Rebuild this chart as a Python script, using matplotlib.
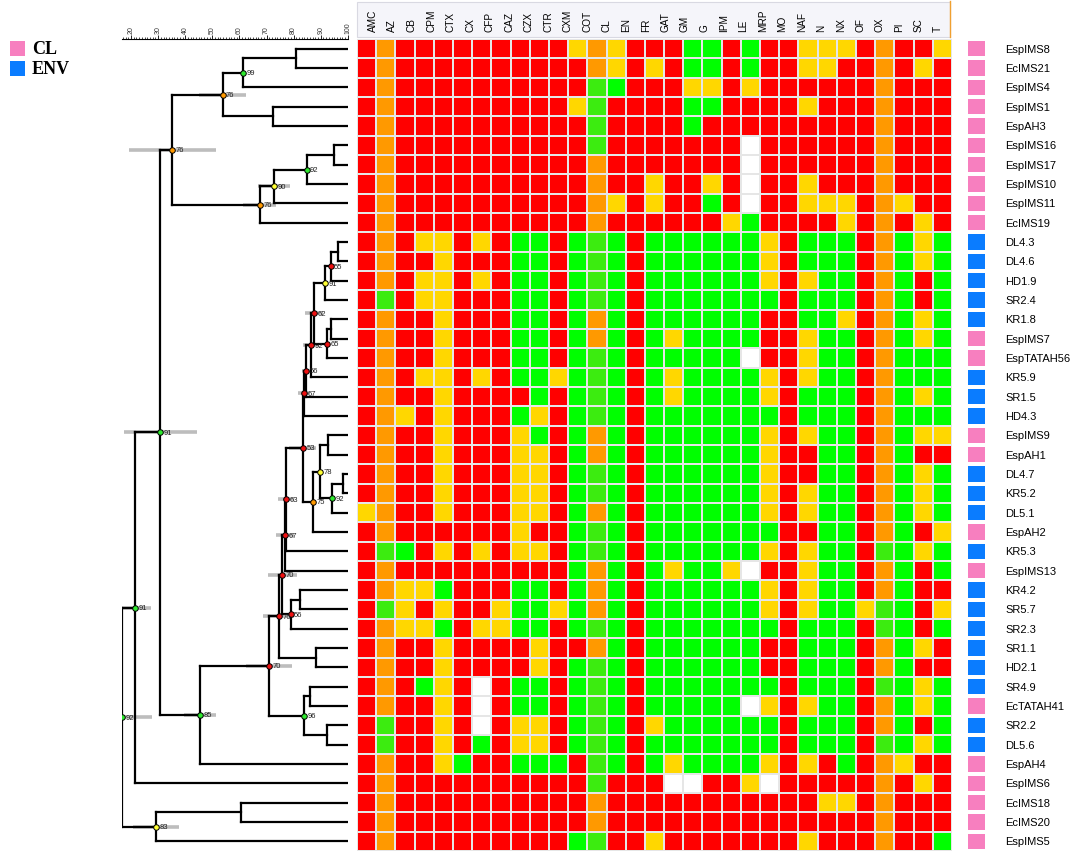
import numpy as np
import matplotlib.pyplot as plt
from matplotlib.colors import ListedColormap
from matplotlib.patches import Rectangle
from matplotlib.lines import Line2D

W, H = 1089, 862

# column headers (30 labels over 31 coloured columns, as in the source figure)
antibiotics = ['AMC', 'AZ', 'CB', 'CPM', 'CTX', 'CX', 'CFP', 'CAZ', 'CZX', 'CTR',
               'CXM', 'COT', 'CL', 'EN', 'FR', 'GAT', 'GM', 'G', 'IPM', 'LE',
               'MRP', 'MO', 'NAF', 'N', 'NX', 'OF', 'OX', 'PI', 'SC', 'T']

isolates = ['EspIMS8', 'EcIMS21', 'EspIMS4', 'EspIMS1', 'EspAH3', 'EspIMS16',
            'EspIMS17', 'EspIMS10', 'EspIMS11', 'EcIMS19', 'DL4.3', 'DL4.6',
            'HD1.9', 'SR2.4', 'KR1.8', 'EspIMS7', 'EspTATAH56', 'KR5.9', 'SR1.5',
            'HD4.3', 'EspIMS9', 'EspAH1', 'DL4.7', 'KR5.2', 'DL5.1', 'EspAH2',
            'KR5.3', 'EspIMS13', 'KR4.2', 'SR5.7', 'SR2.3', 'SR1.1', 'HD2.1',
            'SR4.9', 'EcTATAH41', 'SR2.2', 'DL5.6', 'EspAH4', 'EspIMS6',
            'EcIMS18', 'EcIMS20', 'EspIMS5']

origin = ['CL'] * 10 + ['ENV'] * 5 + ['CL', 'CL'] + ['ENV'] * 3 + ['CL', 'CL'] \
    + ['ENV'] * 3 + ['CL', 'ENV', 'CL'] + ['ENV'] * 6 + ['CL', 'ENV', 'ENV', 'CL', 'CL', 'CL', 'CL', 'CL']

# R resistant, O orange, Y yellow, G green, W no data
profiles = [
    'RORRRRRRRRRYOYRRRGGRGRRYYYRORRY',
    'RORRRRRRRRRROYRYRGGRGRRYYRRORYR',
    'RORRRRRRRRRRGGRRRYYRYRRRRRRORRR',
    'RORRRRRRRRRYGRRRRGGRRRRYRRRORRR',
    'RORRRRRRRRRRGRRRRGRRRRRRRRRORRR',
    'RORRRRRRRRRRGRRRRRRRWRRRRRRORRR',
    'RORRRRRRRRRRORRRRRRRWRRRRRRORRR',
    'RORRRRRRRRRRORRYRRYRWRRYRRRORRR',
    'RORRRRRRRRRROYRYRRGRWRRYYYROYRR',
    'RORRRRRRRRRRORRRRRRYGRRRRYRORYR',
    'RORYYRYRGGRGGGRGGGGGGYRGGGROGYG',
    'RORRYRRRGGRGGGRGGGGGGYRGGGROGYG',
    'RORYYRYRGGRGGGRGGGGGGYRYGGROGRG',
    'RGRYYRRRGGRGGGRGGGGGGGRGGGROGRG',
    'RORRYRRRGGRGOGRGGGGGGRRGGYROGYG',
    'RORRYRRRGGRGOGRGYGGGGRRYGGROGYG',
    'RORRYRRRGGRGGGRGGGGGWRRYGGROGGG',
    'RORYYRYRGGYGGGRGYGGGGYRYGGROGGG',
    'RORRYRRRRGRGGGRGYGGGGYRGGGROGYG',
    'ROYRYRRRGYRGGGRGGGGGGGRGGGROGGG',
    'RORRYRRRYGRGOGRGGGGGGYRYGGROGYY',
    'RORRYRRRYYRGOGRGGGGGGYRRGGROGRR',
    'RORRYRRRYYRGGGRGGGGGGYRRGGROGYG',
    'RORRYRRRYYRGGGRGGGGGGYRYGGROGYG',
    'YORRYRRRYYRGOGRGGGGGGYRYGGROGYG',
    'RORRRRRRYRRGGGRGGGGGGGRRGGROGRY',
    'RGGRYRYRYYRGGGRGGGGGGYRYGGRGGYG',
    'RORRRRRRRRRGOGRGYGGYWRRYGGROGRG',
    'ROYYGRRRGGRGOGRGGGGGGYRYGGROGRR',
    'RGYRYRRYGGYGOGRGGGGGGYRYGGYGGRY',
    'ROYYGRYYGGRGGGRGGGGGGGRGGGRGGRG',
    'RORRYRRRRYRROGRGGGGGGRRGGGROGYR',
    'RORRYRRRRYRGGGRGGGGGGRRGGGROGRR',
    'RORGYRWRGGRGGGRGGGGGGGRGGGRGGYG',
    'RORRYRWRGGRGGGRGGGGGWYRYGGROGYG',
    'RGRRYRWRYYRGGGRYGGGGGGRGGGROGRG',
    'RGRRYRGRYYRGGGRGGGGGGGRGGGRGGYG',
    'RORRYGRRGGGRGGRGYGGGGYRYRGROYRR',
    'RORRRRRRRRRRGRRRWWRRYWRRRRRORYR',
    'RORRRRRRRRRRORRRRRRRRRRRYYRORRR',
    'RORRRRRRRRRRORRRRRRRRRRRRRRORRR',
    'RORRRRRRRRRGGRRYRRRRRRRYRRRORRG',
]

# UPGMA-style merges: (left child, right child, similarity %); leaves are rows 0..41
merges = [
    (0, 1, 80.9), (42, 2, 61.2), (3, 4, 72.5), (43, 44, 53.8),
    (5, 6, 95.0), (46, 7, 84.8), (47, 8, 72.8), (48, 9, 67.5),
    (45, 49, 35.2), (10, 11, 96.3), (51, 12, 93.7), (52, 13, 91.7),
    (14, 15, 93.7), (54, 16, 92.3), (53, 55, 87.5), (56, 17, 86.3),
    (57, 18, 84.6), (58, 19, 84.0), (20, 21, 92.6), (22, 23, 98.1),
    (61, 24, 94.1), (60, 62, 89.7), (63, 25, 87.3), (59, 64, 83.4),
    (65, 26, 77.2), (66, 27, 76.9), (28, 29, 82.4), (68, 30, 78.9),
    (67, 69, 75.8), (31, 32, 88.1), (70, 71, 74.5), (33, 34, 86.1),
    (35, 36, 92.2), (73, 74, 84.0), (72, 75, 71.0), (76, 37, 45.5),
    (50, 77, 30.8), (78, 38, 21.5), (39, 40, 60.5), (80, 41, 29.2),
    (79, 81, 16.6),
]
node_support = ['', '99', '', '76', '', '92', '90', '76', '76', '', '55', '91',
                '', '65', '62', '92', '56', '67', '', '', '92', '78', '75', '53',
                '63', '67', '', '56', '70', '', '76', '', '', '96', '70', '85',
                '91', '91', '', '83', '92']
node_colour = ['', 'g', '', 'o', '', 'g', 'y', 'o', 'o', '', 'r', 'y',
               '', 'r', 'r', 'r', 'r', 'r', '', '', 'g', 'y', 'o', 'r',
               'r', 'r', '', 'r', 'r', '', 'r', '', '', 'g', 'r', 'g',
               'g', 'g', '', 'y', 'g']
node_error = [0, 0, 0, 8.6, 0, 0, 5.9, 6.0, 16.1, 0, 0, 0,
              0, 0, 3.3, 3.0, 1.6, 2.2, 0, 0, 0, 0, 0, 5.0,
              2.8, 3.3, 0, 0, 5.4, 0, 5.7, 0, 0, 0, 8.5, 5.9,
              13.4, 5.8, 0, 8.6, 11.1]

cell_colours = {'R': '#ff0000', 'O': '#ff9900', 'Y': '#ffd700', 'G': '#00ff00', 'W': '#ffffff'}
dot_colours = {'g': '#2ee82e', 'y': '#ffff33', 'o': '#ff9900', 'r': '#ee1111'}
origin_colours = {'CL': '#f77fbf', 'ENV': '#0a7cff'}

fig = plt.figure(figsize=(W / 100, H / 100), dpi=100)


def px_axes(x0, y0, x1, y1):
    return fig.add_axes([x0 / W, 1 - y1 / H, (x1 - x0) / W, (y1 - y0) / H])


nrow, ncol = len(profiles), len(profiles[0])

# ---- heat map
codes = list(cell_colours)
mat = np.array([[codes.index(c) for c in row] for row in profiles])
light_green_cols = [1, 12, 27]
mat = np.where((mat == codes.index('G')) & np.isin(np.arange(ncol), light_green_cols), 5, mat)
cmap = ListedColormap(list(cell_colours.values()) + ['#3cec10'])

ax_h = px_axes(357, 40, 952, 852)
ax_h.pcolormesh(np.arange(ncol + 1), np.arange(nrow + 1), mat, cmap=cmap,
                vmin=-0.5, vmax=5.5, edgecolors='#e6e6e6', linewidth=1.4)
ax_h.set_xlim(0, ncol)
ax_h.set_ylim(nrow, 0)
ax_h.axis('off')

# header band and labels
fig.add_artist(Rectangle((357 / W, 1 - 38 / H), (950 - 357) / W, 35 / H,
                         transform=fig.transFigure, facecolor='#f5f5fa',
                         edgecolor='#d9d9e2', lw=0.8, zorder=-1))
fig.add_artist(Line2D([950 / W, 950 / W], [1 - 38 / H, 1 - 2 / H],
                      transform=fig.transFigure, color='#f0a030', lw=1))
label_x = np.linspace(0.83, 30.28, len(antibiotics))
for x, name in zip(label_x, antibiotics):
    ax_h.text(x, -0.41, name, rotation=90, ha='center', va='bottom', fontsize=7.2,
              family='Liberation Sans', clip_on=False)

# ---- dendrogram
ax_d = px_axes(121.8, 40, 347.8, 852)
ax_d.set_xlim(16.6, 100)
ax_d.set_ylim(nrow, 0)
pos_x = {i: 100.0 for i in range(nrow)}
pos_y = {i: i + 0.5 for i in range(nrow)}
for k, (a, b, s) in enumerate(merges):
    node = nrow + k
    y = (pos_y[a] + pos_y[b]) / 2
    pos_x[node], pos_y[node] = s, y
    ax_d.plot([s, s], [pos_y[a], pos_y[b]], color='black', lw=1.6, zorder=2,
              solid_capstyle='projecting')
    for c in (a, b):
        ax_d.plot([s, pos_x[c]], [pos_y[c], pos_y[c]], color='black', lw=1.6, zorder=2,
                  solid_capstyle='projecting')
    e = node_error[k]
    if e:
        ax_d.plot([s - e, s + e], [y, y], color='#bdbdbd', lw=2.6, zorder=1,
                  solid_capstyle='butt')
    if node_support[k]:
        ax_d.plot(s, y, 'o', ms=4, mfc=dot_colours[node_colour[k]], mec='black',
                  mew=0.7, zorder=3)
        ax_d.annotate(node_support[k], (s, y), xytext=(2.5, 0), textcoords='offset points',
                      fontsize=5.5, va='center', ha='left', color='#222222', zorder=4,
                      family='Liberation Sans')

for side in ['left', 'right', 'bottom']:
    ax_d.spines[side].set_visible(False)
ax_d.spines['top'].set_linewidth(0.8)
ax_d.xaxis.tick_top()
ax_d.set_xticks(range(20, 101, 10))
ax_d.set_xticks(np.arange(17, 101, 1), minor=True)
ax_d.set_xticklabels([str(v) for v in range(20, 101, 10)], rotation=90, fontsize=5,
                     family='Liberation Sans', color='#333333')
ax_d.tick_params(axis='x', which='major', length=3, width=0.6, pad=1)
ax_d.tick_params(axis='x', which='minor', length=1.5, width=0.5)
ax_d.set_yticks([])
ax_d.patch.set_alpha(0)

# ---- origin strip and isolate names
ax_s = px_axes(958, 40, 1089, 852)
ax_s.set_xlim(958, 1089)
ax_s.set_ylim(nrow, 0)
ax_s.axis('off')
for i, (name, src) in enumerate(zip(isolates, origin)):
    ax_s.add_patch(Rectangle((968, i + 0.1), 17, 0.8, facecolor=origin_colours[src],
                             edgecolor='none'))
    ax_s.text(1005, i + 0.5, name, va='center', ha='left', fontsize=8,
              family='Liberation Sans')

# ---- legend
for src, y0 in [('CL', 42), ('ENV', 62)]:
    fig.add_artist(Rectangle((10 / W, 1 - (y0 + 15) / H), 15 / W, 15 / H,
                             transform=fig.transFigure,
                             facecolor=origin_colours[src], edgecolor='none'))
    fig.text(32 / W, 1 - (y0 + 7.5) / H, src, va='center', ha='left', fontsize=13,
             fontweight='bold', family='Liberation Serif')

fig.savefig('out.png', dpi=100)
